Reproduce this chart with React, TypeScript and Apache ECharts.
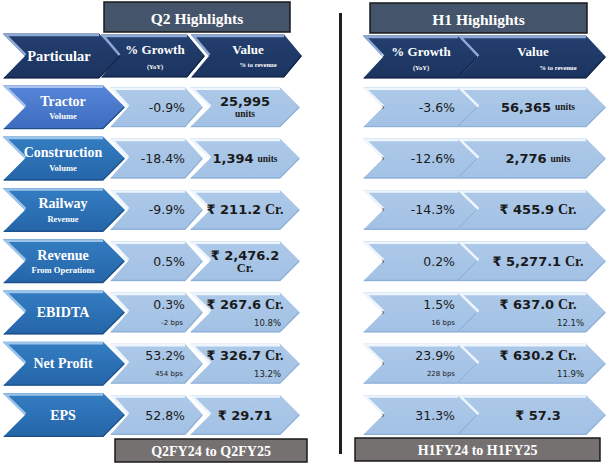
import React, { useEffect, useRef } from "react";
import * as echarts from "echarts";

const particulars = ["Tractor", "Construction", "Railway", "Revenue", "EBIDTA", "Net Profit", "EPS"];
const particularSubs = ["Volume", "Volume", "Revenue", "From Operations", "", "", ""];
const valuePrefix = ["", "", "₹", "₹", "₹", "₹", "₹"];
const valueUnit = ["units", "units", "Cr.", "Cr.", "Cr.", "Cr.", ""];

const q2Growth = ["-0.9%", "-18.4%", "-9.9%", "0.5%", "0.3%", "53.2%", "52.8%"];
const q2GrowthBps = ["", "", "", "", "-2 bps", "454 bps", ""];
const q2Value = ["25,995", "1,394", "211.2", "2,476.2", "267.6", "326.7", "29.71"];
const q2ValuePct = ["", "", "", "", "10.8%", "13.2%", ""];

const h1Growth = ["-3.6%", "-12.6%", "-14.3%", "0.2%", "1.5%", "23.9%", "31.3%"];
const h1GrowthBps = ["", "", "", "", "16 bps", "228 bps", ""];
const h1Value = ["56,365", "2,776", "455.9", "5,277.1", "637.0", "630.2", "57.3"];
const h1ValuePct = ["", "", "", "", "12.1%", "11.9%", ""];

const titles = ["Q2 Highlights", "H1 Highlights"];
const footers = ["Q2FY24 to Q2FY25", "H1FY24 to H1FY25"];
const headerLabels = ["Particular", "% Growth", "(YoY)", "Value", "% to revenue"];

const SERIF = "'Liberation Serif', 'Times New Roman', serif";
const SANS = "'DejaVu Sans', Verdana, sans-serif";

function grad(top: string, bottom: string) {
  return new echarts.graphic.LinearGradient(0, 0, 0, 1, [
    { offset: 0, color: top },
    { offset: 1, color: bottom },
  ]);
}

function chev(x0: number, x1: number, cy: number, h: number, d: number, fill: any, hi: string, lo: string) {
  const t = cy - h / 2;
  const b = cy + h / 2;
  return [
    {
      type: "polygon",
      z: 1,
      shape: { points: [[x0, t], [x1 - d, t], [x1, cy], [x1 - d, b], [x0, b], [x0 + d, cy]] },
      style: { fill },
    },
    {
      type: "polyline",
      z: 2,
      shape: { points: [[x0 + d + 0.5, cy - 1], [x0 + 2.5, t + 1.5], [x1 - d, t + 1.5]] },
      style: { stroke: hi, lineWidth: 2.5, fill: null },
    },
    {
      type: "polyline",
      z: 2,
      shape: { points: [[x1 - 1, cy], [x1 - d, b - 0.8], [x0 + 1, b - 0.8]] },
      style: { stroke: lo, lineWidth: 1.2, fill: null },
    },
  ];
}

function txt(x: number, y: number, text: string, o: any) {
  const align = o.align || "center";
  return {
    type: "text",
    z: 10,
    x,
    y,
    style: {
      text,
      fill: o.fill || "#1a1a1a",
      fontSize: o.size || 12,
      fontFamily: o.family || SANS,
      fontWeight: o.weight || "normal",
      align,
      textAlign: align,
      verticalAlign: "middle",
      textVerticalAlign: "middle",
      rich: o.rich,
    },
  };
}

const richValue = {
  n: { fontFamily: SANS, fontWeight: "bold", fontSize: 13, lineHeight: 14, fill: "#1a1a1a" },
  r: { fontFamily: SANS, fontWeight: "bold", fontSize: 13, lineHeight: 14, fill: "#1a1a1a" },
  u: { fontFamily: SERIF, fontWeight: "bold", fontSize: 9.5, lineHeight: 10, fill: "#1a1a1a" },
  c: { fontFamily: SERIF, fontWeight: "bold", fontSize: 14, lineHeight: 14, fill: "#1a1a1a" },
  c2: { fontFamily: SERIF, fontWeight: "bold", fontSize: 12.5, lineHeight: 11, fill: "#1a1a1a" },
};

function valueParts(i: number, num: string, wrapped: boolean) {
  const pre = valuePrefix[i] ? "{r|" + valuePrefix[i] + " }" : "";
  const cr = wrapped ? "{c2|Cr.}" : "{c|Cr.}";
  const unit = valueUnit[i] ? (valueUnit[i] === "units" ? "{u|units}" : cr) : "";
  return { main: pre + "{n|" + num + "}", unit };
}

function buildGraphic() {
  const els: any[] = [];
  const headerCy = 56;
  const pitch = 51.3;
  const rowCy = particulars.map((_, i) => headerCy + (i + 1) * pitch);

  const lightFill = grad("#adc9e9", "#a2c1e4");
  const lightHi = "#eef5fc";
  const lightLo = "#8fb0d6";
  const headFill = grad("#24406f", "#1b335f");
  const headHi = "#8ea9d6";

  const titleBoxes = [
    [104, 2, 186, 30],
    [370, 3, 217, 30],
  ];
  titleBoxes.forEach((bx, k) => {
    els.push({
      type: "rect",
      z: 1,
      shape: { x: bx[0], y: bx[1], width: bx[2], height: bx[3] },
      style: { fill: "#44546a", stroke: "#1a1a1a", lineWidth: 1.5 },
    });
    els.push(txt(bx[0] + bx[2] / 2, bx[1] + bx[3] / 2 + 1, titles[k], { fill: "#ffffff", size: 15.5, family: SERIF, weight: "bold" }));
  });

  const footBoxes = [
    [115, 439, 192, 23],
    [355, 438, 245, 23],
  ];
  footBoxes.forEach((bx, k) => {
    els.push({
      type: "rect",
      z: 1,
      shape: { x: bx[0], y: bx[1], width: bx[2], height: bx[3] },
      style: { fill: "#767171", stroke: "#1a1a1a", lineWidth: 1.5 },
    });
    els.push(txt(bx[0] + bx[2] / 2, bx[1] + bx[3] / 2 + 1, footers[k], { fill: "#ffffff", size: 14, family: SERIF, weight: "bold" }));
  });

  els.push({
    type: "line",
    z: 1,
    shape: { x1: 340.5, y1: 13, x2: 340.5, y2: 454 },
    style: { stroke: "#1e1e1e", lineWidth: 3 },
  });

  els.push(...chev(3, 121, headerCy, 45, 22, headFill, headHi, "#13264a"));
  els.push(...chev(101, 205, headerCy, 43, 18, headFill, headHi, "#13264a"));
  els.push(...chev(191, 302, headerCy, 43, 18, headFill, headHi, "#13264a"));
  els.push(...chev(363, 478, headerCy + 1, 43, 20, headFill, headHi, "#13264a"));
  els.push(...chev(458, 606, headerCy + 1, 43, 20, headFill, headHi, "#13264a"));

  const W = "#ffffff";
  els.push(txt(59, headerCy, headerLabels[0], { fill: W, size: 14.5, family: SERIF, weight: "bold" }));
  els.push(txt(155, headerCy - 7, headerLabels[1], { fill: W, size: 13, family: SERIF, weight: "bold" }));
  els.push(txt(155, headerCy + 10, headerLabels[2], { fill: W, size: 6.5, family: SERIF, weight: "bold" }));
  els.push(txt(248, headerCy - 7, headerLabels[3], { fill: W, size: 13, family: SERIF, weight: "bold" }));
  els.push(txt(258, headerCy + 8, headerLabels[4], { fill: W, size: 6.5, family: SERIF, weight: "bold" }));
  els.push(txt(421, headerCy - 5, headerLabels[1], { fill: W, size: 13, family: SERIF, weight: "bold" }));
  els.push(txt(421, headerCy + 11, headerLabels[2], { fill: W, size: 6.5, family: SERIF, weight: "bold" }));
  els.push(txt(533, headerCy - 5, headerLabels[3], { fill: W, size: 13, family: SERIF, weight: "bold" }));
  els.push(txt(558, headerCy + 11, headerLabels[4], { fill: W, size: 6.5, family: SERIF, weight: "bold" }));
  els.push(txt(382, headerCy - 1, "›", { fill: W, size: 8, family: SANS }));

  particulars.forEach((name, i) => {
    const cy = rowCy[i];
    const pFill = i === 0 ? grad("#5787d8", "#3d6bbf") : grad("#347dc2", "#2565a8");
    const pHi = i === 0 ? "#a9c3ee" : "#9cc4ea";

    els.push(...chev(110, 203, cy, 40, 18, lightFill, lightHi, lightLo));
    els.push(...chev(190, 300, cy, 40, 20, lightFill, lightHi, lightLo));
    els.push(...chev(363, 478, cy, 40, 20, lightFill, lightHi, lightLo));
    els.push(...chev(458, 606, cy, 40, 20, lightFill, lightHi, lightLo));
    els.push(...chev(3, 125, cy, 44, 22, pFill, pHi, "#1d4f86"));

    if (particularSubs[i]) {
      els.push(txt(63, cy - 6, name, { fill: W, size: 14, family: SERIF, weight: "bold" }));
      els.push(txt(63, cy + 9, particularSubs[i], { fill: W, size: 8.5, family: SERIF, weight: "bold" }));
    } else {
      els.push(txt(63, cy, name, { fill: W, size: 14, family: SERIF, weight: "bold" }));
    }

    els.push(txt(383, cy, "›", { fill: "#333333", size: 8, family: SANS }));

    const panels = [
      { growth: q2Growth, bps: q2GrowthBps, value: q2Value, pct: q2ValuePct, gx: 185, bx: 183, vx: 245, px: 281, wide: false },
      { growth: h1Growth, bps: h1GrowthBps, value: h1Value, pct: h1ValuePct, gx: 455, bx: 455, vx: 538, px: 584, wide: true },
    ];
    panels.forEach((p) => {
      if (p.bps[i]) {
        els.push(txt(p.gx, cy - 8, p.growth[i], { size: 12.5, align: "right" }));
        els.push(txt(p.bx, cy + 10, p.bps[i], { size: 7, align: "right" }));
      } else {
        els.push(txt(p.gx, cy, p.growth[i], { size: 12.5, align: "right" }));
      }
      const wrapped = !p.wide && !p.pct[i] && p.value[i].length >= 6;
      const vp = valueParts(i, p.value[i], wrapped);
      if (p.pct[i]) {
        els.push(txt(p.vx, cy - 8, vp.main + " " + vp.unit, { rich: richValue }));
        els.push(txt(p.px, cy + 10, p.pct[i], { size: 8.5, align: "right", fill: "#222222" }));
      } else if (wrapped) {
        els.push(txt(p.vx, cy - 6, vp.main, { rich: richValue }));
        els.push(txt(p.vx, cy + 7, vp.unit, { rich: richValue }));
      } else {
        els.push(txt(p.vx, cy, vp.main + (vp.unit ? " " + vp.unit : ""), { rich: richValue }));
      }
    });
  });

  return els;
}

export default function App() {
  const ref = useRef<HTMLDivElement>(null);
  useEffect(() => {
    document.body.style.margin = "0";
    if (!ref.current) return;
    const chart = echarts.init(ref.current, null, { renderer: "svg" });
    chart.setOption({
      animation: false,
      backgroundColor: "#ffffff",
      graphic: { elements: buildGraphic() },
    });
    return () => chart.dispose();
  }, []);
  return <div ref={ref} style={{ width: 610, height: 466 }} />;
}
